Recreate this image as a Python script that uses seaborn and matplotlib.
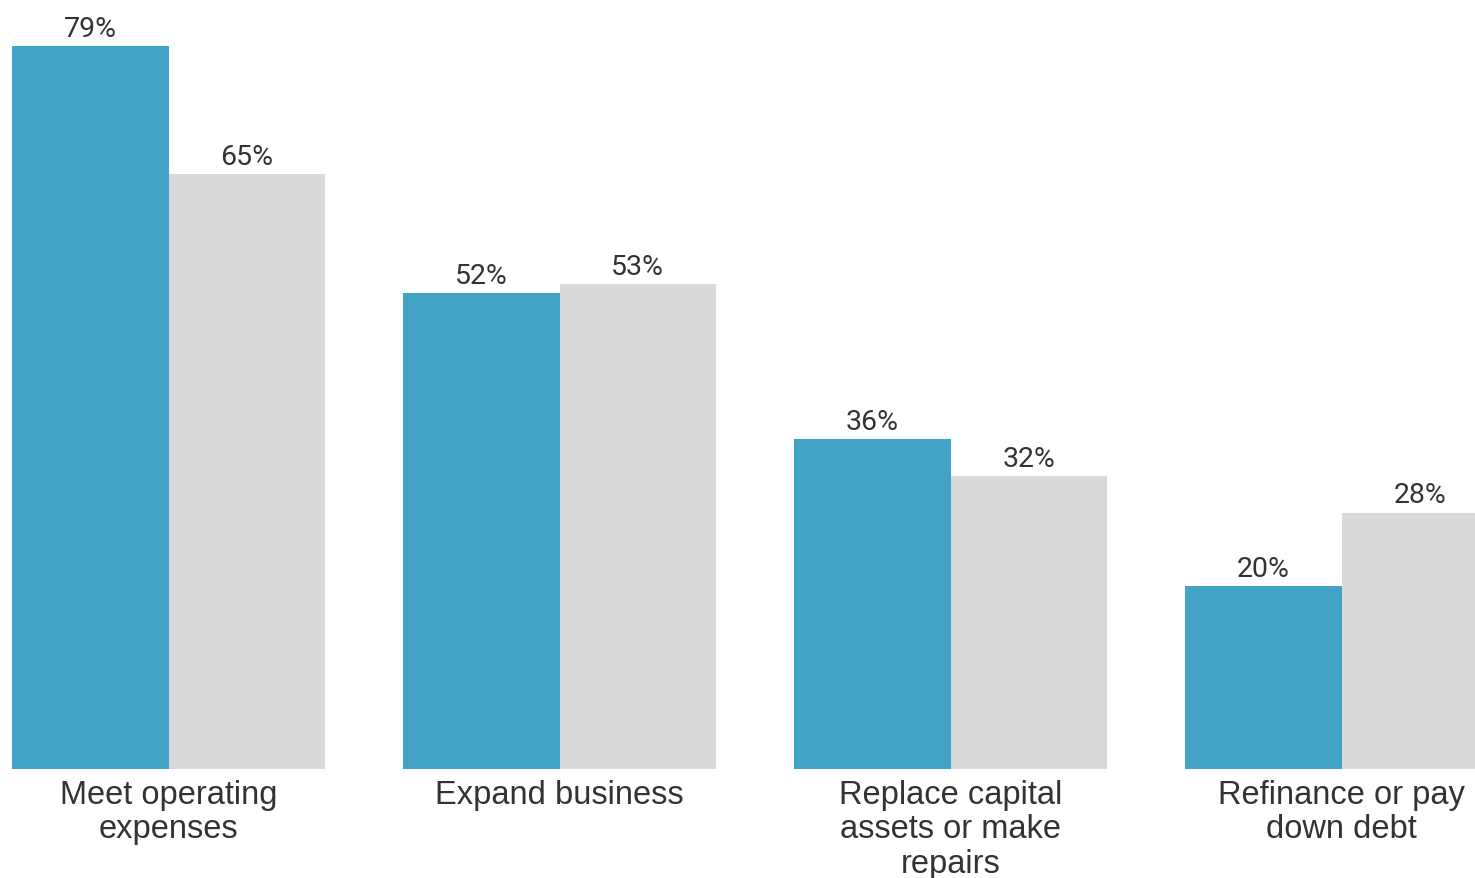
import pandas as pd
import matplotlib.pyplot as plt
import seaborn as sns

sns.set_style('white')

categories = ['Meet operating\nexpenses', 'Expand business',
              'Replace capital\nassets or make\nrepairs', 'Refinance or pay\ndown debt']
series = ['Series 1', 'Series 2']
values_1 = [79, 52, 36, 20]
values_2 = [65, 53, 32, 28]
colors = ['#42A3C7', '#D9D9D9']

df = pd.DataFrame({
    'categoria': categories * 2,
    'serie': [series[0]] * 4 + [series[1]] * 4,
    'valor': values_1 + values_2,
})

fig = plt.figure(figsize=(14.75, 8.79), dpi=100)
ax = fig.add_axes([0, 109 / 879, 1, 770 / 879])

sns.barplot(data=df, x='categoria', y='valor', hue='serie', palette=colors,
            saturation=1, linewidth=0, legend=False, ax=ax)

# Rótulos de valor acima das barras
for cont in ax.containers:
    ax.bar_label(cont, fmt='%d%%', padding=3, fontsize=20.5,
                 family='Roboto', color='#333333')

ax.set_xlim(-0.431, 3.341)
ax.set_ylim(0, 84.1)
ax.set_xlabel('')
ax.set_ylabel('')
ax.set_yticks([])
ax.tick_params(axis='x', length=0, pad=7)
for lbl in ax.get_xticklabels():
    lbl.set_fontsize(23.5)
    lbl.set_family('Liberation Sans')
    lbl.set_color('#333333')
    lbl.set_linespacing(1.15)
    lbl.set_verticalalignment('top')
sns.despine(ax=ax, left=True, bottom=True)

fig.savefig('out.png', dpi=100)
